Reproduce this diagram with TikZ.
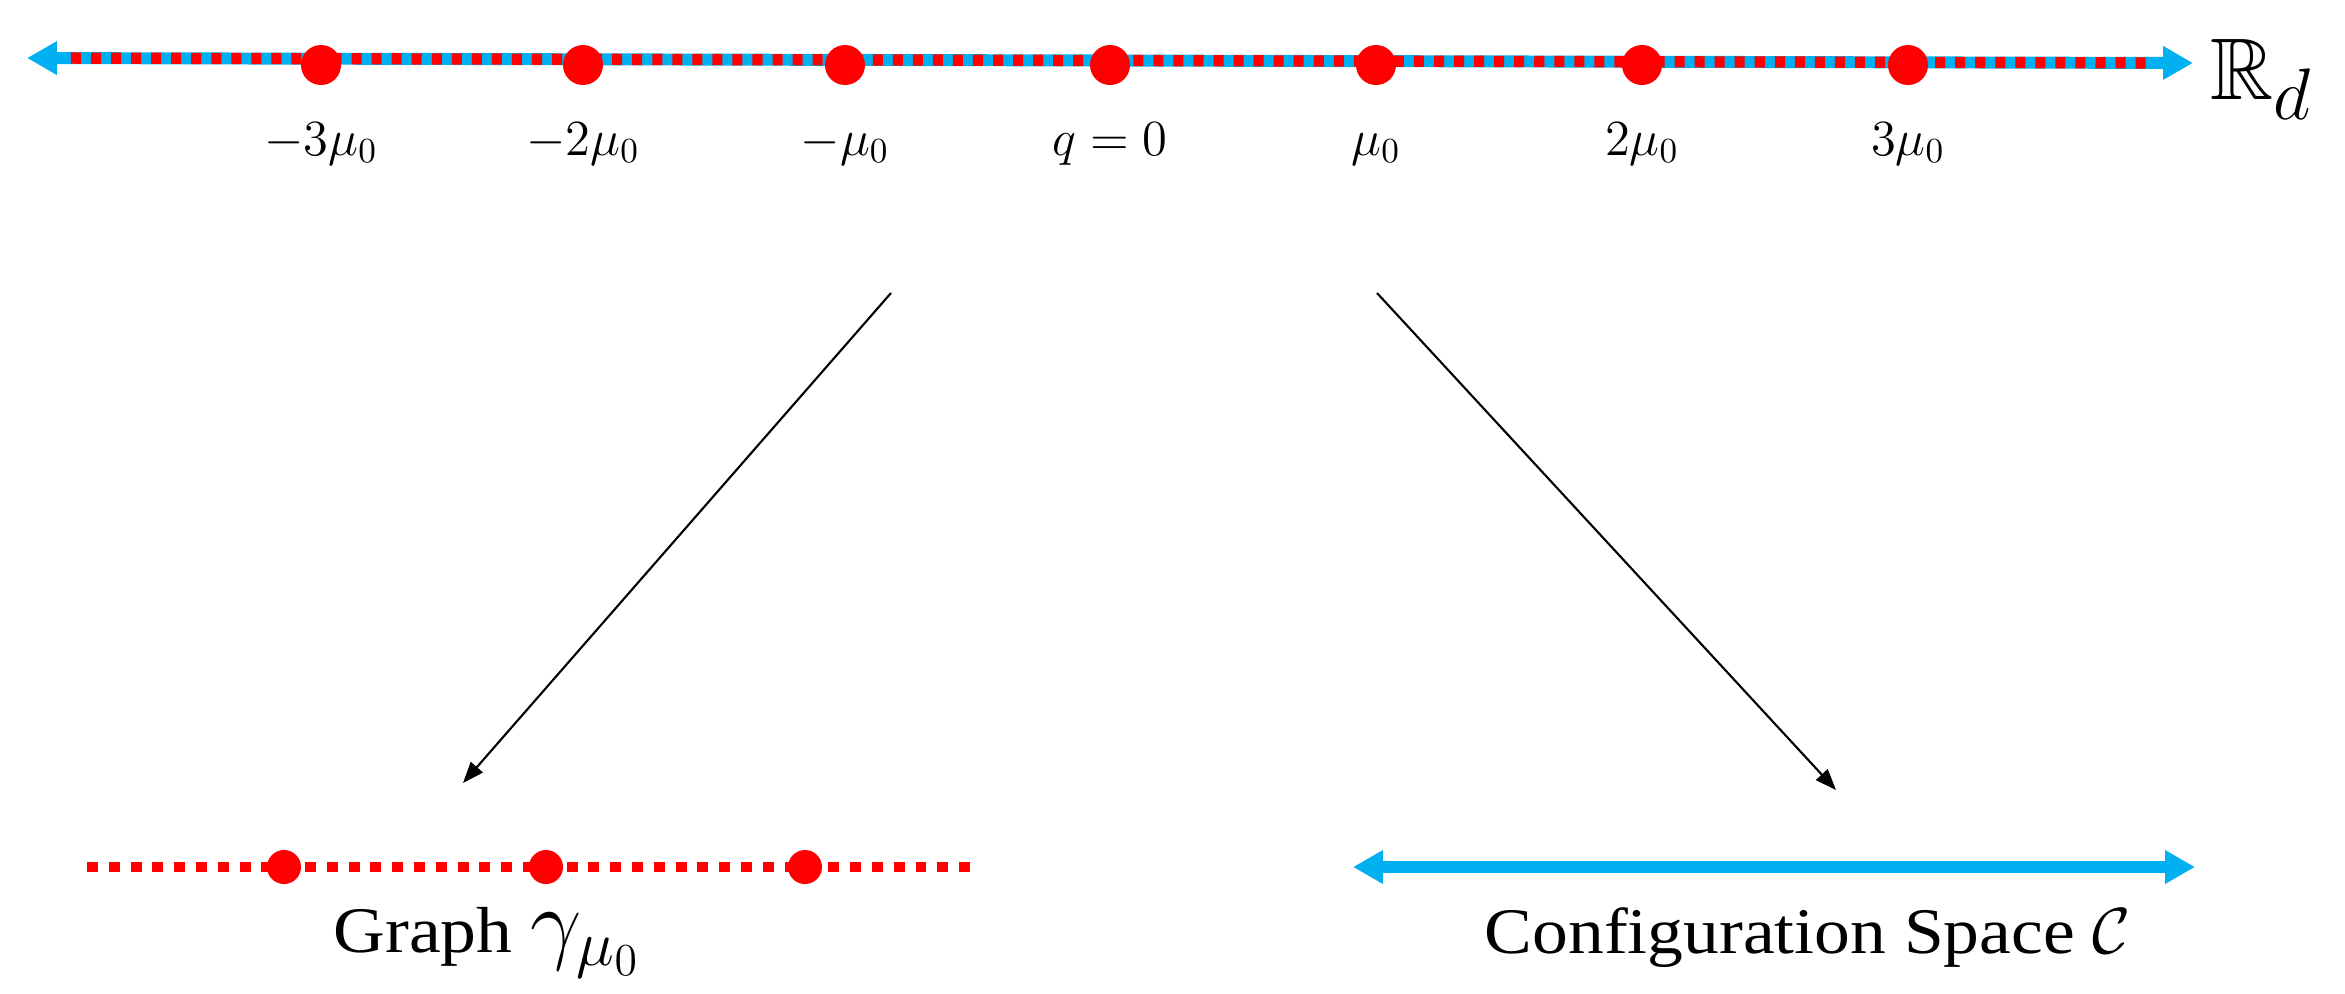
\documentclass[tikz,border=0pt]{standalone}
\usepackage{fix-cm}
\usepackage{fontspec}
\usepackage{amssymb}
\usetikzlibrary{arrows.meta}
\newfontfamily\wordfont[FakeStretch=1.1]{Liberation Serif}
\definecolor{lineblue}{RGB}{0,176,240}
\definecolor{dotred}{RGB}{255,0,0}
\begin{document}
\begin{tikzpicture}[x=0.01cm,y=-0.01cm,
    bigdot/.style={circle,fill=dotred,inner sep=0pt,minimum size=0.4cm},
    smalldot/.style={circle,fill=dotred,inner sep=0pt,minimum size=0.34cm},
    ticklab/.style={anchor=base,inner sep=0pt,font=\Large},
    bluearrow/.style={lineblue,line width=3.4pt,
        {Triangle[length=8.5pt,width=9pt]}-{Triangle[length=8.5pt,width=9pt]}},
    mapto/.style={-{Triangle[length=6pt,width=4.5pt]},line width=0.6pt}]
    \useasboundingbox (0,0) rectangle (2345,993);
    % die Gerade R_d: blau mit roten Strichen darauf
    \coordinate (lineL) at (27,58);
    \coordinate (lineR) at (2193,63);
    \draw[bluearrow] (lineL) -- (lineR);
    \draw[dotred,line width=3.2pt,dash pattern=on 2.85pt off 2.85pt,
        shorten <=12.5pt,shorten >=12.5pt] (lineL) -- (lineR);
    % Punkte k*mu_0
    \foreach \k/\x/\lab in {m3/321/-3\mu_0, m2/583/-2\mu_0, m1/845/-\mu_0,
        z/1110/q=0, p1/1376/\mu_0, p2/1642/2\mu_0, p3/1908/3\mu_0} {
        \node[bigdot] (dot\k) at (\x,65) {};
        \node[ticklab] (lab\k) at (\x,155) {$\lab$};
    }
    \node[anchor=base west,inner sep=0pt,font=\Huge] (Rd) at (2210,99) {$\mathbb{R}_d$};
    % Pfeile nach unten
    \coordinate (fromL) at (891,293);
    \coordinate (toL) at (463,783);
    \coordinate (fromR) at (1377,293);
    \coordinate (toR) at (1836,790);
    \draw[mapto] (fromL) -- (toL);
    \draw[mapto] (fromR) -- (toR);
    % Graph links unten
    \coordinate (graphL) at (87,867);
    \coordinate (graphR) at (977,867);
    \draw[dotred,line width=2.8pt,dash pattern=on 3.1pt off 3.1pt] (graphL) -- (graphR);
    \foreach \n/\x in {a/284, b/546, c/805}
        \node[smalldot] (g\n) at (\x,867) {};
    \node[anchor=base west,inner sep=0pt,font=\wordfont\fontsize{18.5}{22}\selectfont]
        (graphlab) at (333,952) {Graph {\fontsize{26}{30}\selectfont$\gamma_{\mu_0}$}};
    % Konfigurationsraum rechts unten
    \coordinate (confL) at (1353,867);
    \coordinate (confR) at (2195,867);
    \draw[bluearrow] (confL) -- (confR);
    \node[anchor=base west,inner sep=0pt,font=\wordfont\fontsize{18.5}{22}\selectfont]
        (conflab) at (1484,953) {Configuration Space $\mathcal{C}$};
\end{tikzpicture}
\end{document}
